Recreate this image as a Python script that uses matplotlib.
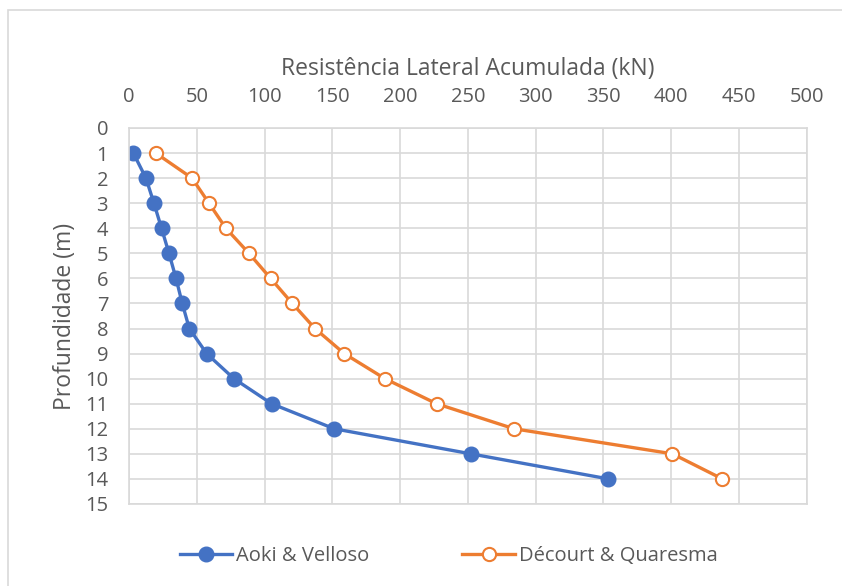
import matplotlib.pyplot as plt
from matplotlib.patches import Rectangle

plt.rcParams['font.family'] = ['Open Sans', 'DejaVu Sans']

# profundidade (m)
depth = [1, 2, 3, 4, 5, 6, 7, 8, 9, 10, 11, 12, 13, 14]
# resistencia lateral acumulada (kN)
aoki = [3.2, 12.5, 18.4, 24, 29.5, 34.7, 39.3, 44.5, 57.3, 77.4, 105.2, 151.4, 252.2, 353.7]
decourt = [19.7, 46.5, 59, 71.5, 88.5, 104.5, 120.5, 137.2, 158.8, 188.8, 226.9, 284.1, 401, 437.8]

xticks = list(range(0, 501, 50))
yticks = list(range(0, 16))

fig = plt.figure(figsize=(8.42, 5.86), dpi=100)
ax = fig.add_axes([0.1532, 0.140, 0.8048, 0.6416])

txt = '#595959'
ax.plot(aoki, depth, color='#4472C4', lw=2.4, marker='o', ms=10.5,
        mfc='#4472C4', mec='#4472C4', label='Aoki & Velloso')
ax.plot(decourt, depth, color='#ED7D31', lw=2.4, marker='o', ms=9.5,
        mfc='white', mec='#ED7D31', mew=1.5, label='Décourt & Quaresma')

ax.set_xlim(0, 500)
ax.set_ylim(15, 0)
ax.set_xticks(xticks)
ax.set_yticks(yticks)
ax.xaxis.tick_top()
ax.xaxis.set_label_position('top')
ax.tick_params(length=0, labelsize=14.5, colors=txt)
ax.tick_params(axis='x', pad=15)
ax.tick_params(axis='y', pad=15)
ax.grid(True, color='#D9D9D9', lw=1.2)
ax.set_axisbelow(True)
for s in ax.spines.values():
    s.set_color('#D9D9D9')
    s.set_linewidth(1.2)

ax.set_xlabel('Resistência Lateral Acumulada (kN)', fontsize=16.5, color=txt, labelpad=9)
ax.set_ylabel('Profundidade (m)', fontsize=16.5, color=txt, labelpad=6)

leg = fig.legend(loc='center', bbox_to_anchor=(0.533, 0.051), ncol=2, frameon=False,
                 fontsize=14.5, handlelength=2.6, columnspacing=4.6, handletextpad=0.2)
for t in leg.get_texts():
    t.set_color(txt)

fig.patches.append(Rectangle((0.0095, -0.1), 1.2, 1.083, transform=fig.transFigure,
                             fill=False, edgecolor='#D9D9D9', lw=1.2))

fig.savefig('out.png', dpi=100)
